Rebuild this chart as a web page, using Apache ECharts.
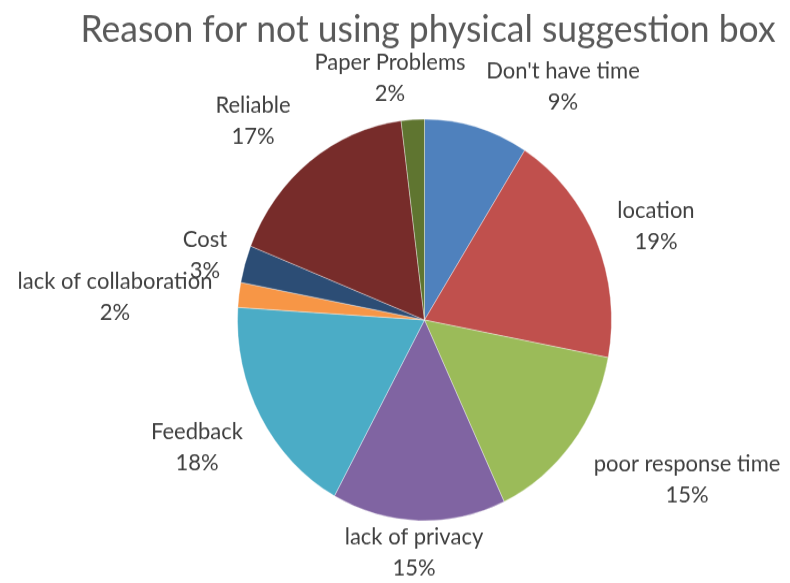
<!DOCTYPE html>
<html>
<head>
<meta charset="utf-8">
<script src="https://cdn.jsdelivr.net/npm/echarts@6/dist/echarts.min.js"></script>
<style>
  html, body { margin: 0; padding: 0; background: #fff; overflow: hidden; }
  #wrap { width: 790px; height: 583px; overflow: hidden; }
  /* the drawing is laid out at 790x543 and stretched vertically to fill 583 */
  #chart { width: 790px; height: 543px; transform: scaleY(1.0737); transform-origin: 0 0; }
</style>
</head>
<body>
<div id="wrap"><div id="chart"></div></div>
<script>
const titleText = 'Reason for not using physical suggestion box';
const categories = ['Don\'t have time', 'location', 'poor response time', 'lack of privacy', 'Feedback',
                    'lack of collaboration', 'Cost', 'Reliable', 'Paper Problems'];
const percents = [9, 19, 15, 15, 18, 2, 3, 17, 2];
const sliceColors = ['#4F81BD', '#C0504D', '#9BBB59', '#8064A2', '#4BACC6',
                     '#F79646', '#2C4D75', '#772C2A', '#5F7530'];
// label anchor points (centre of the two-line label), in layout pixels
const labelSpots = [[563, 80], [656, 210], [687, 446], [414, 514], [197, 416],
                    [115, 276], [205, 237], [253, 112], [390, 72]];

const chart = echarts.init(document.getElementById('chart'), null, { renderer: 'canvas' });
chart.setOption({
  animation: false,
  title: {
    text: titleText,
    left: 423,
    textAlign: 'center',
    top: 5,
    textStyle: { fontFamily: 'Lato', fontSize: 35.5, fontWeight: 'normal', color: '#595959' }
  },
  series: [{
    type: 'pie',
    center: [424.5, 298],
    radius: 187,
    startAngle: 90,
    clockwise: true,
    color: sliceColors,
    itemStyle: { borderColor: 'rgba(255,255,255,0.6)', borderWidth: 0.6 },
    label: {
      show: true,
      position: 'inside',
      formatter: p => p.name + '\n' + p.value + '%',
      fontFamily: 'Lato',
      fontSize: 22,
      lineHeight: 29,
      color: '#404040',
      align: 'center',
      overflow: 'none'
    },
    labelLine: { show: false },
    labelLayout: p => ({
      x: labelSpots[p.dataIndex][0],
      y: labelSpots[p.dataIndex][1],
      align: 'center',
      verticalAlign: 'middle'
    }),
    emphasis: { disabled: true },
    data: categories.map((c, i) => ({ name: c, value: percents[i] }))
  }]
});
</script>
</body>
</html>
